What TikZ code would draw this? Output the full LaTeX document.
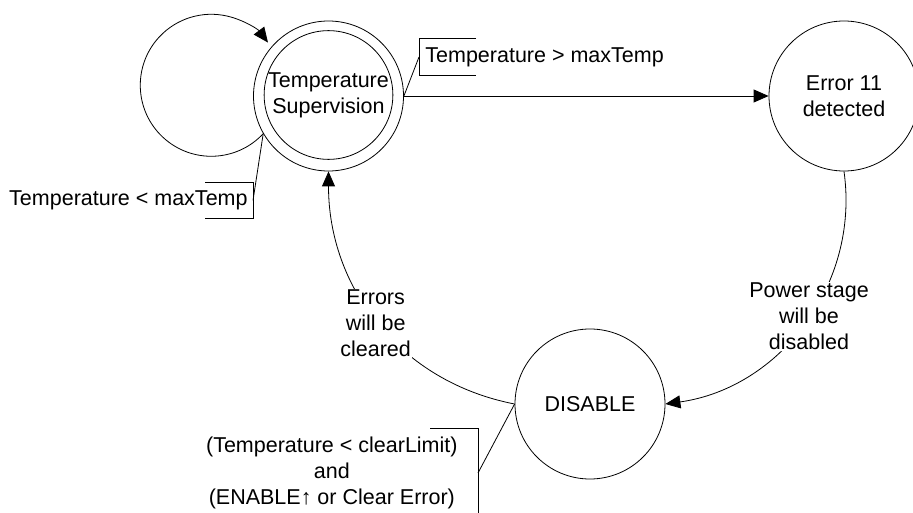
\documentclass[tikz,border=0pt]{standalone}
\usepackage{fontspec}
\setmainfont{Liberation Sans}
\usetikzlibrary{arrows.meta}

\tikzset{
        state/.style = {circle, draw, minimum size = 150pt, inner sep = 0pt, align = center},
        trans/.style = {-{Triangle[length = 15pt, width = 13pt]}},
        note/.style = {align = center, fill = white, inner sep = 1pt},
        cond/.style = {minimum height = 36pt, inner ysep = 0pt}
}

\begin{document}
\begin{tikzpicture}[font = \fontsize{21.5}{26}\selectfont, x = 1pt, y = 1pt, line width = 0.8pt]
        \useasboundingbox (0,0) rectangle (913,-513);

        \node [state] (sup) at (328.5,-96) {};
        \node [state, minimum size = 121pt] (supin) at (328.5,-95) {Temperature\\Supervision};
        \node [state] (err) at (844,-96) {Error 11\\detected};
        \node [state] (dis) at (590,-404) {DISABLE};

        \draw [trans] (sup) -- (err);
        \draw [trans] (sup.210) arc [start angle = -43, delta angle = -280, radius = 71pt];
        \draw [trans] (err.south) to [out = -82, in = 8] node [note, pos = 0.47] {Power stage\\will be\\disabled} (dis.east);
        \draw [trans] (dis.west) to [out = 169, in = -90] node [note, xshift = -3pt] {Errors\\will be\\cleared} (sup.south);

        \node [cond, anchor = west, inner xsep = 6pt] (hi) at (419,-57) {Temperature > maxTemp};
        \draw ([xshift = 57pt]hi.north west) -- (hi.north west) -- (hi.south west) -- ([xshift = 57pt]hi.south west);
        \draw (hi.west) -- (sup.east);

        \node [cond, anchor = east, inner xsep = 5pt] (lo) at (253,-200.5) {Temperature < maxTemp};
        \draw ([xshift = -48pt]lo.north east) -- (lo.north east) -- (lo.south east) -- ([xshift = -48pt]lo.south east);
        \draw (lo.east) -- (sup.210);

        \node [align = center, anchor = east, minimum height = 88pt, inner xsep = 20pt] (clr) at (478,-473) {(Temperature < clearLimit)\\and\\(ENABLE↑ or Clear Error)};
        \draw ([xshift = -48pt]clr.north east) -- (clr.north east) -- (clr.south east);
        \draw (clr.east) -- (dis.west);
\end{tikzpicture}
\end{document}
